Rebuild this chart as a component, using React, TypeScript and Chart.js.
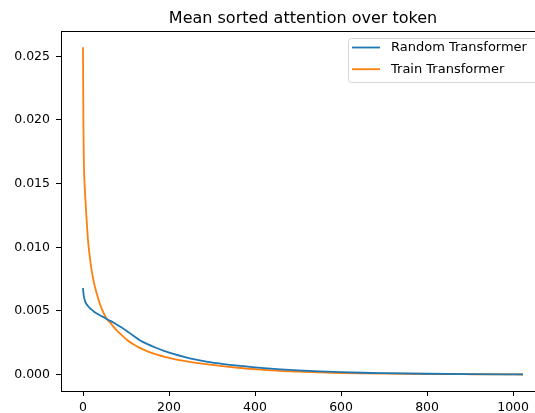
import React, { useEffect, useRef } from "react";
import { Chart, registerables } from "chart.js";

Chart.register(...registerables);

const TITLE = "Mean sorted attention over token";
const SERIES_NAMES = ["Random Transformer", "Train Transformer"];
const COLORS = ["#1f77b4", "#ff7f0e"];

const tokens = [0, 1, 2, 3, 5, 8, 12, 16, 20, 25, 30, 36, 42, 50, 56, 65, 75, 90, 104, 118, 132, 150, 174, 190, 210, 235, 260, 290, 319, 360, 400, 459, 500, 550, 600, 650, 700, 800, 900, 1023];

const randomValues = [0.0068, 0.0064, 0.00615, 0.006, 0.00575, 0.00555, 0.00537, 0.00522, 0.0051, 0.00496, 0.00484, 0.00472, 0.00461, 0.00447, 0.00435, 0.0042, 0.004, 0.0037, 0.00337, 0.00304, 0.0027, 0.0024, 0.00205, 0.00185, 0.00163, 0.0014, 0.0012, 0.00101, 0.00087, 0.0007, 0.00057, 0.00042, 0.00034, 0.00026, 0.0002, 0.00015, 0.00012, 0.00007, 0.00004, 0.00002];

const trainValues = [0.0257, 0.0195, 0.0168, 0.0155, 0.0141, 0.0124, 0.0104, 0.0092, 0.0082, 0.0073, 0.0066, 0.0059, 0.0053, 0.0047, 0.00435, 0.004, 0.0036, 0.0031, 0.00268, 0.00236, 0.0021, 0.00183, 0.00155, 0.0014, 0.00124, 0.00108, 0.00094, 0.0008, 0.00068, 0.00054, 0.00043, 0.00029, 0.00023, 0.00017, 0.00013, 0.0001, 0.00008, 0.00005, 0.00003, 0.00001];

const xTicks = [0, 200, 400, 600, 800, 1000];
const yTicks = [0, 0.005, 0.01, 0.015, 0.02, 0.025];

const X_MIN = -51.15;
const X_MAX = 1074.15;
const Y_MIN = -0.001285;
const Y_MAX = 0.026985;

const FONT = "DejaVu Sans";

const framePlugin = {
  id: "mplFrame",
  afterDraw(chart: any) {
    const { ctx, chartArea } = chart;
    const { left, right, top, bottom } = chartArea;
    ctx.save();
    ctx.strokeStyle = "#000";
    ctx.lineWidth = 1;
    ctx.strokeRect(Math.round(left) + 0.5, Math.round(top) + 0.5, Math.round(right - left), Math.round(bottom - top));
    ctx.fillStyle = "#000";
    ctx.font = `16px "${FONT}"`;
    ctx.textAlign = "center";
    ctx.textBaseline = "alphabetic";
    ctx.fillText(TITLE, (left + right) / 2, top - 8);
    const bx0 = 348;
    const by0 = top + 7;
    const bx1 = right - 6;
    const by1 = by0 + 44;
    ctx.beginPath();
    (ctx as any).roundRect(bx0 + 0.5, by0 + 0.5, bx1 - bx0, by1 - by0, 3);
    ctx.fillStyle = "rgba(255,255,255,0.8)";
    ctx.fill();
    ctx.strokeStyle = "#d6d6d6";
    ctx.lineWidth = 1;
    ctx.stroke();
    ctx.font = `13px "${FONT}"`;
    ctx.textAlign = "left";
    ctx.textBaseline = "middle";
    SERIES_NAMES.forEach((name, i) => {
      const y = by0 + 9.5 + i * 21.7;
      ctx.strokeStyle = COLORS[i];
      ctx.lineWidth = 1.8;
      ctx.beginPath();
      ctx.moveTo(352, y);
      ctx.lineTo(380, y);
      ctx.stroke();
      ctx.fillStyle = "#000";
      ctx.fillText(name, 391, y + 0.5);
    });
    ctx.restore();
  },
};

export default function App() {
  const ref = useRef<HTMLCanvasElement | null>(null);

  useEffect(() => {
    if (!ref.current) return;
    const mk = (vals: number[]) => tokens.map((t, i) => ({ x: t, y: vals[i] }));
    const chart = new Chart(ref.current, {
      type: "line",
      data: {
        datasets: [
          {
            label: SERIES_NAMES[0],
            data: mk(randomValues),
            borderColor: COLORS[0],
            backgroundColor: COLORS[0],
            borderWidth: 1.8,
            pointRadius: 0,
            cubicInterpolationMode: "monotone",
          },
          {
            label: SERIES_NAMES[1],
            data: mk(trainValues),
            borderColor: COLORS[1],
            backgroundColor: COLORS[1],
            borderWidth: 1.8,
            pointRadius: 0,
            cubicInterpolationMode: "monotone",
          },
        ],
      },
      options: {
        animation: false,
        responsive: false,
        devicePixelRatio: 1,
        layout: { padding: { left: 0, top: 31, right: 15, bottom: 0 } },
        plugins: {
          legend: { display: false },
          title: { display: false },
          tooltip: { enabled: false },
        },
        scales: {
          x: {
            type: "linear",
            min: X_MIN,
            max: X_MAX,
            afterBuildTicks: (s: any) => {
              s.ticks = xTicks.map((v) => ({ value: v }));
            },
            afterFit: (s: any) => {
              s.height = 22;
            },
            border: { display: false },
            grid: { display: true, drawOnChartArea: false, drawTicks: true, tickLength: 5, tickColor: "#000", tickWidth: 1 },
            ticks: {
              color: "#000",
              font: { family: FONT, size: 12.5 },
              padding: 4,
              maxRotation: 0,
              autoSkip: false,
              callback: (v: any) => String(v),
            },
          },
          y: {
            type: "linear",
            min: Y_MIN,
            max: Y_MAX,
            afterBuildTicks: (s: any) => {
              s.ticks = yTicks.map((v) => ({ value: v }));
            },
            afterFit: (s: any) => {
              s.width = 61;
            },
            border: { display: false },
            grid: { display: true, drawOnChartArea: false, drawTicks: true, tickLength: 5, tickColor: "#000", tickWidth: 1 },
            ticks: {
              color: "#000",
              font: { family: FONT, size: 12.5 },
              padding: 6,
              autoSkip: false,
              callback: (v: any) => Number(v).toFixed(3),
            },
          },
        },
      },
      plugins: [framePlugin],
    });
    return () => chart.destroy();
  }, []);

  return (
    <div style={{ position: "fixed", left: 0, top: 0, width: 535, height: 413, background: "#fff", overflow: "hidden" }}>
      <canvas ref={ref} width={560} height={413} style={{ width: 560, height: 413, display: "block" }} />
    </div>
  );
}
